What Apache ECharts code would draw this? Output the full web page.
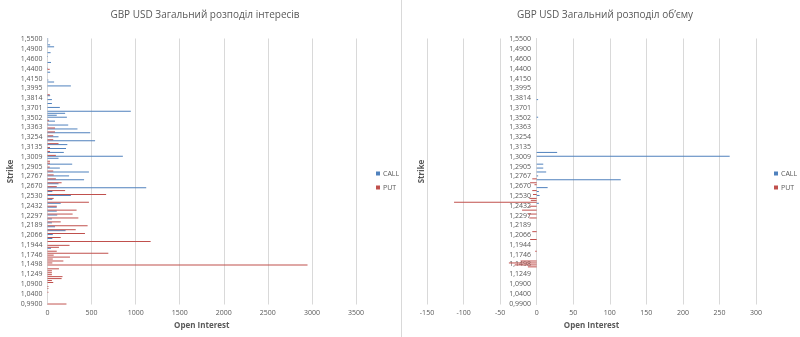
<!DOCTYPE html>
<html>
<head>
<meta charset="utf-8">
<script src="https://cdn.jsdelivr.net/npm/echarts@6/dist/echarts.min.js"></script>
<style>
  html, body { margin: 0; padding: 0; background: #ffffff; }
  #chart { width: 800px; height: 337px; }
</style>
</head>
<body>
<div id="chart"></div>
<script>
// Strike prices, listed from the highest (top row) to the lowest (bottom row)
const strikes = [
  '1,5500','1,5400','1,5300','1,5200','1,5000','1,4900','1,4850','1,4800','1,4750','1,4700',
  '1,4600','1,4550','1,4500','1,4475','1,4450','1,4400','1,4350','1,4300','1,4250','1,4200',
  '1,4150','1,4100','1,4075','1,4036','1,4016','1,3995','1,3959','1,3921','1,3885','1,3850',
  '1,3814','1,3792','1,3769','1,3746','1,3723','1,3701','1,3660','1,3620','1,3580','1,3541',
  '1,3502','1,3474','1,3446','1,3418','1,3390','1,3363','1,3341','1,3319','1,3297','1,3276',
  '1,3254','1,3230','1,3206','1,3182','1,3159','1,3135','1,3110','1,3084','1,3059','1,3034',
  '1,3009','1,2988','1,2967','1,2946','1,2926','1,2905','1,2877','1,2850','1,2822','1,2794',
  '1,2767','1,2748','1,2728','1,2709','1,2689','1,2670','1,2642','1,2614','1,2586','1,2558',
  '1,2530','1,2510','1,2491','1,2471','1,2452','1,2432','1,2405','1,2378','1,2351','1,2324',
  '1,2297','1,2275','1,2254','1,2232','1,2211','1,2189','1,2164','1,2140','1,2115','1,2091',
  '1,2066','1,2042','1,2017','1,1993','1,1968','1,1944','1,1904','1,1865','1,1825','1,1786',
  '1,1746','1,1696','1,1647','1,1597','1,1548','1,1498','1,1448','1,1398','1,1349','1,1299',
  '1,1249','1,1200','1,1100','1,1000','1,0950','1,0900','1,0800','1,0700','1,0600','1,0500',
  '1,0400','1,0300','1,0200','1,0100','1,0000','0,9900'
];

// Open interest per strike
const oiCall = [
  8,10,6,30,75,0,0,35,0,5,
  0,0,40,0,0,5,0,30,0,0,
  0,10,75,0,265,0,0,0,0,30,
  0,50,0,50,0,140,0,945,200,105,
  220,0,85,0,235,0,340,0,485,0,
  125,0,540,0,225,0,210,0,185,0,
  855,125,0,0,280,0,140,0,470,0,
  245,0,415,0,125,0,1120,0,55,0,
  265,0,55,0,150,0,105,0,105,0,
  110,0,50,0,50,0,85,0,205,0,
  60,0,55,0,0,0,0,40,0,0,
  0,0,0,0,0,0,0,0,0,0,
  0,0,0,0,0,0,0,0,0,0,
  0,0,0,0,0,0
];
const oiPut = [
  0,0,0,0,0,0,0,0,0,0,
  0,0,0,0,0,25,0,0,0,0,
  0,0,0,0,0,0,0,0,25,0,
  0,0,0,0,0,0,0,0,0,0,
  0,17,0,10,0,85,0,85,0,65,
  0,65,0,125,0,28,0,28,0,95,
  0,0,28,28,0,25,0,65,0,70,
  0,95,0,160,0,105,0,200,0,665,
  0,70,0,470,0,105,0,330,0,285,
  0,350,0,150,0,455,0,320,0,425,
  0,150,0,1170,0,250,130,0,105,690,
  70,255,60,180,55,2950,0,130,50,50,
  50,170,160,50,65,0,10,10,0,10,
  0,0,0,0,0,215
];

// Traded volume per strike (puts shown on the negative side)
const volCall = [
  0,0,0,0,0,0,0,0,0,0,
  0,0,0,0,0,0,0,0,0,0,
  0,0,0,0,0,0,0,0,0,0,
  0,2,0,0,0,0,0,0,0,0,
  2,0,0,0,0,0,0,0,0,0,
  0,0,0,0,0,0,0,0,28,0,
  264,0,0,0,9,0,9,0,13,0,
  2,0,115,0,0,0,15,0,3,0,
  4,0,0,0,3,0,0,0,0,0,
  0,0,0,0,0,0,0,0,0,0,
  0,0,0,0,0,0,0,0,0,0,
  0,0,0,0,0,0,0,0,0,0,
  0,0,0,0,0,0,0,0,0,0,
  0,0,0,0,0,0
];
const volPut = [
  0,0,0,0,0,0,0,0,0,0,
  0,0,0,0,0,0,0,0,0,0,
  0,0,0,0,0,0,0,0,0,0,
  0,0,0,0,0,0,0,0,0,0,
  0,0,0,0,0,0,0,0,0,0,
  0,0,0,0,0,0,0,0,0,0,
  0,0,0,0,0,0,0,0,0,0,
  0,-6,0,-9,-3,0,0,-6,0,-5,
  0,-10,-8,-113,0,-10,0,-20,0,-12,
  0,-10,0,0,0,0,0,0,-6,0,
  0,0,-9,0,0,0,0,0,-2,0,
  0,0,0,-22,-38,-30,-12,0,0,0,
  0,0,0,0,0,0,0,0,0,0,
  0,0,0,0,0,0
];

const seriesNames = ['CALL', 'PUT'];
const titles = ['GBP USD Загальний розподіл інтересів', 'GBP USD Загальний розподіл об\u2019єму'];

const FONT = '"Open Sans", "Noto Sans", sans-serif';
const TEXT = '#595959';
const GRID_LINE = '#d9d9d9';
const CALL_COLOR = '#4F81BD';
const PUT_COLOR = '#C0504D';

function valueAxis(gridIndex, min, max, interval) {
  return {
    type: 'value', gridIndex, min, max, interval,
    name: 'Open Interest', nameLocation: 'middle', nameGap: 17,
    nameTextStyle: { fontFamily: FONT, fontSize: 8, fontWeight: 'bold', color: TEXT },
    axisLine: { show: false }, axisTick: { show: false },
    axisLabel: { fontFamily: FONT, fontSize: 7, color: TEXT, margin: 5,
                 formatter: v => String(v) },
    splitLine: { show: true, lineStyle: { color: GRID_LINE, width: 1 } }
  };
}

// Strike axis; offset shifts it (with its labels) to the zero of the value axis
function strikeAxis(gridIndex, offset, nameGap) {
  return {
    type: 'category', gridIndex, data: strikes, inverse: true, offset,
    name: 'Strike', nameLocation: 'middle', nameGap, nameRotate: 90,
    nameMoveOverlap: false,
    nameTextStyle: { fontFamily: FONT, fontSize: 8, fontWeight: 'bold', color: TEXT },
    axisLine: { show: true, onZero: false, lineStyle: { color: GRID_LINE } },
    axisTick: { show: false },
    axisLabel: { interval: 4, fontFamily: FONT, fontSize: 7, color: TEXT, margin: 5 },
    splitLine: { show: false }
  };
}

function barSeries(name, axisIndex, data, color) {
  return {
    type: 'bar', name, data,
    xAxisIndex: axisIndex, yAxisIndex: axisIndex,
    barWidth: 1, barGap: '0%',
    itemStyle: { color },
    animation: false
  };
}

function legendAt(left) {
  return {
    data: seriesNames, orient: 'vertical', left, top: 170, padding: 0,
    itemWidth: 4, itemHeight: 4, itemGap: 7, icon: 'rect',
    textStyle: { fontFamily: FONT, fontSize: 7, color: TEXT, padding: [0, 0, 0, -2] }
  };
}

const chart = echarts.init(document.getElementById('chart'), null, { renderer: 'canvas' });

chart.setOption({
  backgroundColor: '#ffffff',
  animation: false,
  title: [
    { text: titles[0], left: 200, top: 5, textAlign: 'center',
      textStyle: { fontFamily: FONT, fontSize: 10, fontWeight: 'normal', color: TEXT } },
    { text: titles[1], left: 600, top: 5, textAlign: 'center',
      textStyle: { fontFamily: FONT, fontSize: 10, fontWeight: 'normal', color: TEXT } }
  ],
  legend: [legendAt(376), legendAt(774)],
  grid: [
    { left: 47.5, top: 38.5, width: 308.5, height: 266 },
    { left: 427, top: 38.5, width: 329, height: 266 }
  ],
  xAxis: [
    valueAxis(0, 0, 3500, 500),
    valueAxis(1, -150, 300, 50)
  ],
  yAxis: [
    strikeAxis(0, 0, 33),
    strikeAxis(1, -109, 110)
  ],
  series: [
    barSeries(seriesNames[0], 0, oiCall, CALL_COLOR),
    barSeries(seriesNames[1], 0, oiPut, PUT_COLOR),
    barSeries(seriesNames[0], 1, volCall, CALL_COLOR),
    barSeries(seriesNames[1], 1, volPut, PUT_COLOR)
  ],
  graphic: [
    { type: 'line', shape: { x1: 401.5, y1: 0, x2: 401.5, y2: 337 },
      style: { stroke: GRID_LINE, lineWidth: 1 }, silent: true }
  ]
});
</script>
</body>
</html>
